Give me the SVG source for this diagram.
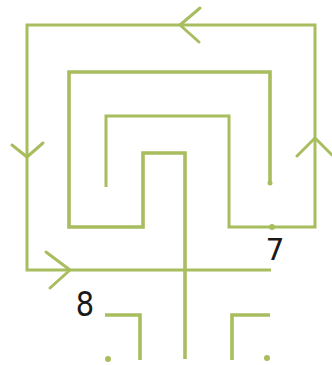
<svg xmlns="http://www.w3.org/2000/svg" width="332" height="365" viewBox="0 0 332 365">
<style>
.ln{fill:none;stroke:#a8bd5e;stroke-width:3.6;stroke-linecap:butt;stroke-linejoin:miter}
.thin{stroke-width:3}
.ar{fill:none;stroke:#a8bd5e;stroke-width:3;stroke-linecap:round;stroke-linejoin:round}
.dot{fill:#a8bd5e}
.lbl{font-family:"DejaVu Sans","Liberation Sans",sans-serif;fill:#1a1a1a;text-anchor:middle}
</style>
<rect width="332" height="365" fill="#ffffff"/>
<g id="connectors">
  <path id="outer" class="ln thin" d="M271,270 H27 V25 H315 V227 H229 V116 H106 V187"/>
  <path id="inner" class="ln" d="M270,183 V72 H69 V227 H143 V153 H185 V359"/>
  <path class="ln" d="M105,315 H140 V360"/>
  <path class="ln" d="M270,315 H232 V360"/>
  <path class="ar" d="M200,8 L180,25 L199,42"/>
  <path class="ar" d="M12,145 L27,157 L43,143"/>
  <path class="ar" d="M297,156 L315,138 L332,155"/>
  <path class="ar" d="M46,252 L70,270 L50,288"/>
</g>
<g id="dots">
  <circle class="dot" cx="272" cy="227" r="3"/>
  <circle class="dot" cx="270" cy="183" r="2.5"/>
  <circle class="dot" cx="108" cy="359" r="3"/>
  <circle class="dot" cx="267" cy="358" r="3"/>
</g>
<g id="label-7"><text class="lbl" x="275" y="260" font-size="30">7</text></g>
<g id="label-8"><text class="lbl" x="85" y="316" font-size="34" transform="translate(85 316) scale(0.85 1) translate(-85 -316)">8</text></g>
</svg>
